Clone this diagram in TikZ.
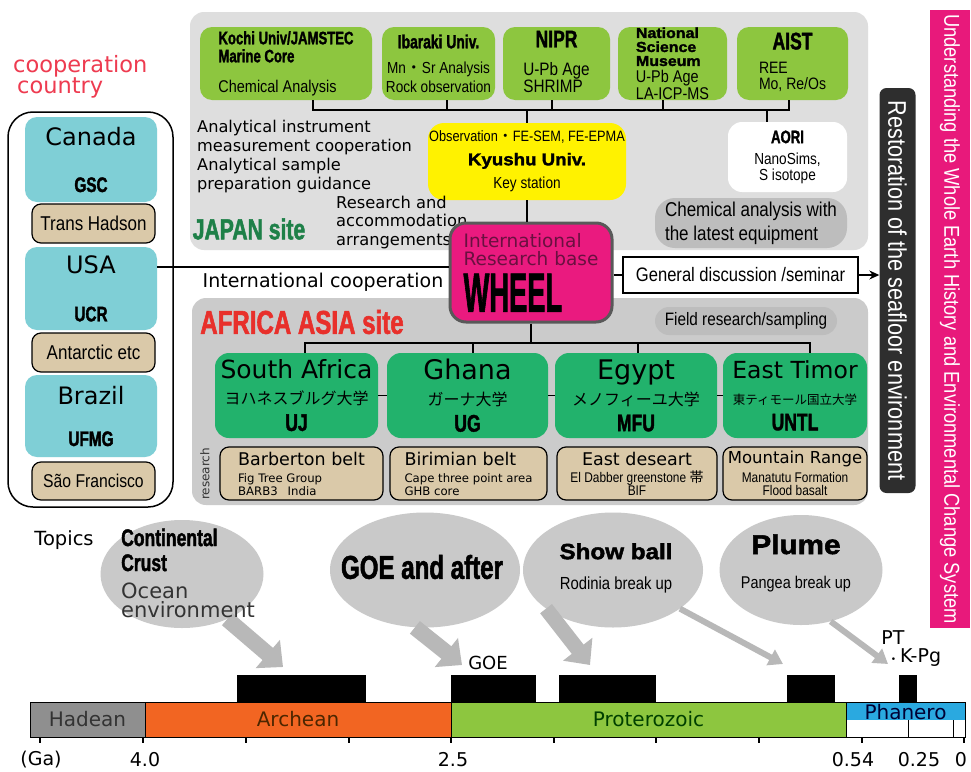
\documentclass[tikz,border=0pt]{standalone}
\usepackage{fontspec}
\usepackage{graphicx}
\usepackage[]{xcolor}
\usetikzlibrary{shapes.geometric,arrows.meta}
\setmainfont{DejaVu Sans}
\newfontfamily\condfont{Liberation Sans}[FakeStretch=0.85]
\newfontfamily\heavyfont{Liberation Sans}[UprightFont=* Bold,FakeStretch=0.73,FakeBold=1.6]
\newfontfamily\blackfont{Liberation Sans}[UprightFont=* Bold,FakeStretch=1.1,FakeBold=2]
\newfontfamily\jpfont{Noto Sans CJK JP}
\newcommand\setfs[2]{\fontsize{#1}{#2}\selectfont}

\definecolor{japanbg}{HTML}{DEDEDE}
\definecolor{africabg}{HTML}{CBCBCB}
\definecolor{limegreen}{HTML}{8DC63F}
\definecolor{kyuyellow}{HTML}{FFF200}
\definecolor{wheelpink}{HTML}{EA1A7F}
\definecolor{wheeltext}{HTML}{6A1040}
\definecolor{sitegreen}{HTML}{22B26C}
\definecolor{beltTan}{HTML}{DAC9A9}
\definecolor{landcyan}{HTML}{7FCFD6}
\definecolor{pillgray}{HTML}{BDBDBD}
\definecolor{restoreblack}{HTML}{2E2E2E}
\definecolor{earthpink}{HTML}{E8197B}
\definecolor{coopred}{HTML}{EE3B50}
\definecolor{japangreen}{HTML}{1E8048}
\definecolor{africared}{HTML}{E8302B}
\definecolor{bubblegray}{HTML}{C9C9C9}
\definecolor{arrowgray}{HTML}{B8B8B8}
\definecolor{hadeangray}{HTML}{8F8F8F}
\definecolor{archeanorange}{HTML}{F26522}
\definecolor{proterogreen}{HTML}{8DC63F}
\definecolor{phaneroblue}{HTML}{2AA9E0}
\definecolor{darktext}{HTML}{333333}

\begin{document}
\begin{tikzpicture}[x=1pt,y=-1pt,
        every node/.style={inner sep=0},
        wire/.style={line width=1.2},
        jpbox/.style={fill=limegreen, rounded corners=12, minimum height=73, align=center},
        land/.style={fill=landcyan, rounded corners=12, minimum width=132, align=center},
        belt/.style={draw, line width=1.2, fill=beltTan, rounded corners=9},
        site/.style={fill=sitegreen, rounded corners=14, minimum height=85, align=center},
        pill/.style={fill=pillgray, rounded corners=14},
        era/.style={draw, line width=1, minimum height=35},
        bubble/.style={ellipse, fill=bubblegray},
        fatarrow/.style={draw=arrowgray, line width=16, -{Triangle[length=20pt,width=36pt]}},
        thinarrow/.style={draw=arrowgray, line width=6, -{Triangle[length=14pt,width=17pt]}}]
        \useasboundingbox (0,0) rectangle (971,771);
        \fill[white] (0,0) rectangle (971,771);

        % sites
        \fill[japanbg, rounded corners=14] (190,12) rectangle (868,250);
        \fill[africabg, rounded corners=14] (192,298) rectangle (868,505);

        \node[jpbox, minimum width=172, align=left, font=\condfont\setfs{17}{18}] (kochi) at (286,63.5)
                {{\heavyfont\setfs{18}{18}Kochi Univ/JAMSTEC}\\{\heavyfont\setfs{18}{18}Marine Core}\\[12pt]Chemical Analysis};
        \node[jpbox, minimum width=113, font=\condfont\setfs{16}{19}] (ibaraki) at (438.5,63.5)
                {{\heavyfont\setfs{19}{19}Ibaraki Univ.}\\[6pt]Mn{\jpfont ・}Sr Analysis\\Rock observation};
        \node[jpbox, minimum width=107, font=\condfont\setfs{18}{14}] (nipr) at (556.5,63.5)
                {{\heavyfont\setfs{24}{14}NIPR}\\[14pt]\begin{tabular}[t]{@{}l@{}}U-Pb Age\\SHRIMP\end{tabular}};
        \node[jpbox, minimum width=109, align=left, font=\condfont\setfs{17}{14}] (nsm) at (672.5,63.5)
                {{\blackfont\setfs{14.5}{14}National}\\{\blackfont\setfs{14.5}{14}Science}\\{\blackfont\setfs{14.5}{14}Museum}\\[3pt]U-Pb Age\\LA-ICP-MS};
        \node[jpbox, minimum width=111, font=\condfont\setfs{16.5}{15}] (aist) at (792.5,63.5)
                {{\heavyfont\setfs{24}{15}AIST}\\[9pt]\begin{tabular}[t]{@{}l@{}}REE\\Mo, Re/Os\end{tabular}};

        \node[fill=kyuyellow, rounded corners=16, minimum width=198, minimum height=77, align=center, font=\condfont\setfs{15}{23.5}] (kyushu) at (527,161.5)
                {Observation{\jpfont ・}FE-SEM, FE-EPMA\\{\blackfont\setfs{17}{23.5}Kyushu Univ.}\\{\setfs{16}{23.5}Key station}};
        \node[fill=white, rounded corners=14, minimum width=119, minimum height=70, align=center, font=\condfont\setfs{16}{16}] (aori) at (787.5,157)
                {{\heavyfont\setfs{18}{16}AORI}\\[5pt]NanoSims,\\S isotope};
        \node[pill, rounded corners=20, minimum width=192, minimum height=50, align=left, font=\condfont\setfs{20}{24}] (chem) at (751,223)
                {Chemical analysis with\\the latest equipment};

        \node[anchor=west, align=left, font=\setfs{16.2}{19}] (instr) at (197,157)
                {Analytical instrument\\measurement cooperation\\Analytical sample\\preparation guidance};
        \node[anchor=west, align=left, font=\setfs{16.3}{18.5}] (accom) at (336,222)
                {Research and\\accommodation\\arrangements};
        \node[text=japangreen, font=\heavyfont\setfs{29}{30}] (japansite) at (249,229) {JAPAN site};

        \node[fill=wheelpink, draw=gray!70!black, line width=3, rounded corners=16, minimum width=162, minimum height=99, align=left, font=\setfs{18.5}{18}] (wheel) at (531,272.5)
                {{\color{wheeltext}International}\\{\color{wheeltext}Research base}\\[7pt]{\heavyfont\setfs{55}{18}\scalebox{0.68}[1]{WHEEL}}};
        \node[draw, line width=1.2, fill=white, minimum width=235, minimum height=36, font=\condfont\setfs{19.5}{20}] (discuss) at (740.5,275) {General discussion /seminar};
        \node[font=\setfs{19}{20}] (intlcoop) at (323,282) {International cooperation};

        \node[text=africared, font=\heavyfont\setfs{33}{34}] (africasite) at (302,322) {AFRICA ASIA site};
        \node[pill, minimum width=182, minimum height=28, font=\condfont\setfs{18}{20}] (field) at (746,321) {Field research/sampling};

        \node[site, minimum width=163, font=\setfs{25}{26}] (sa) at (296.5,395.5)
                {South Africa\\{\jpfont\setfs{16}{26}ヨハネスブルグ大学}\\{\heavyfont\setfs{24}{26}UJ}};
        \node[site, minimum width=161, font=\setfs{27}{26}] (ghana) at (467.5,395.5)
                {Ghana\\{\jpfont\setfs{16}{26}ガーナ大学}\\{\heavyfont\setfs{24}{26}UG}};
        \node[site, minimum width=162, font=\setfs{27}{26}] (egypt) at (636,395.5)
                {Egypt\\{\jpfont\setfs{16}{26}メノフィーユ大学}\\{\heavyfont\setfs{24}{26}MFU}};
        \node[site, minimum width=144, font=\setfs{23.5}{26}] (timor) at (795,395.5)
                {East Timor\\{\jpfont\setfs{12.5}{26}東ティモール国立大学}\\{\heavyfont\setfs{24}{26}UNTL}};

        \node[belt, minimum width=163, minimum height=53, align=left, font=\setfs{11.7}{13}] (barberton) at (301.5,473.5)
                {{\setfs{17.5}{13}Barberton belt}\\[4pt]Fig Tree Group\\BARB3\hspace{10pt}India};
        \node[belt, minimum width=157, minimum height=53, align=left, font=\setfs{11.7}{13}] (birimian) at (468.5,473.5)
                {{\setfs{17.5}{13}Birimian belt}\\[4pt]Cape three point area\\GHB core};
        \node[belt, minimum width=160, minimum height=53, align=center, font=\condfont\setfs{14}{13}] (eastdesert) at (637,473.5)
                {{\rmfamily\setfs{17.5}{13}East deseart}\\[4pt]El Dabber greenstone {\jpfont 帯}\\BIF};
        \node[belt, minimum width=144, minimum height=53, align=center, font=\condfont\setfs{14}{13}] (mountain) at (795,473.5)
                {{\rmfamily\setfs{16.5}{13}Mountain Range}\\[4pt]Manatutu Formation\\Flood basalt};
        \node[rotate=90, text=darktext, font=\setfs{12}{12}] (researchlbl) at (205,474) {research};

        % outcome bars
        \node[fill=restoreblack, rounded corners=7, minimum width=405, minimum height=36, rotate=-90, text=white, font=\condfont\setfs{25.5}{24}] (restore) at (897.5,290.5)
                {Restoration of the seafloor environment};
        \node[fill=earthpink, minimum width=618, minimum height=40, rotate=-90, text=white, font=\condfont\setfs{21.5}{22}] (earth) at (950,319)
                {Understanding the Whole Earth History and Environmental Change System};

        % cooperation countries
        \node[anchor=west, align=left, text=coopred, font=\setfs{22.5}{19}] (coopcountry) at (13,77) {cooperation\\\hspace*{4pt}country};
        \node[draw, line width=1.5, rounded corners=25, minimum width=165, minimum height=395] (countries) at (90.5,309.5) {};
        \node[land, minimum height=85, font=\setfs{24}{47}] (canada) at (91,159.5) {Canada\\{\heavyfont\setfs{21}{47}GSC}};
        \node[belt, minimum width=123, minimum height=39, font=\condfont\setfs{20}{20}] (transhudson) at (93.5,223.5) {Trans Hadson};
        \node[land, minimum height=83, font=\setfs{24}{48}] (usa) at (91,288.5) {USA\\{\heavyfont\setfs{21}{48}UCR}};
        \node[belt, minimum width=123, minimum height=39, font=\condfont\setfs{20}{20}] (antarctic) at (93.5,352.5) {Antarctic etc};
        \node[land, minimum height=82, font=\setfs{24}{42}] (brazil) at (91,416) {Brazil\\{\heavyfont\setfs{21}{42}UFMG}};
        \node[belt, minimum width=123, minimum height=38, font=\condfont\setfs{18.5}{20}] (saofrancisco) at (93.5,481) {São Francisco};

        % connectors
        \coordinate (jpbus) at (527,110);
        \draw[wire] ([xshift=27]kochi.south) |- (jpbus) -| ([xshift=-3.5]aist.south);
        \draw[wire] ([xshift=8.5]ibaraki.south) -- ++(0,10);
        \draw[wire] ([xshift=-4.5]nipr.south) -- ++(0,10);
        \draw[wire] ([xshift=-9.5]nsm.south) -- ++(0,10);
        \draw[wire] (jpbus) -- (kyushu.north);
        \draw[wire] ([xshift=-20.5]aori.north) -- ++(0,-12);
        \draw[wire] (kyushu.south) -- (kyushu.south |- wheel.north);
        \draw[wire] (usa.18) -- (usa.18 -| wheel.west);
        \draw[wire] (wheel.east |- discuss.west) -- (discuss.west);
        \draw[wire, -{Stealth[length=10pt,width=9pt]}] (discuss.east) -- (discuss.east -| restore.south);
        \coordinate (afbus) at (531,343);
        \draw[wire] (wheel.south) -- (afbus);
        \draw[wire] ([xshift=8.5]sa.north) |- (afbus) -| ([xshift=15]timor.north);
        \draw[wire] ([xshift=5.5]ghana.north) -- ++(0,-10);
        \draw[wire] ([xshift=2]egypt.north) -- ++(0,-10);
        \draw[wire] (sa.east) -- (ghana.west);
        \draw[wire] (ghana.east) -- (egypt.west);
        \draw[wire] (egypt.east) -- (timor.west);

        % topics
        \node[font=\setfs{19.5}{20}] (topics) at (64,540) {Topics};
        \node[bubble, minimum width=163, minimum height=108] (crust) at (182,574) {};
        \node[bubble, minimum width=190, minimum height=115] (goe) at (425,570) {};
        \node[bubble, minimum width=180, minimum height=115] (show) at (613,570) {};
        \node[bubble, minimum width=163, minimum height=110] (plume) at (801,570) {};
        \coordinate (crusttip) at (283,667);
        \coordinate (goetip) at (462,665);
        \coordinate (showtip) at (590,665);
        \coordinate (rodiniatip) at (783,664);
        \coordinate (plumetip) at (888,664);
        \draw[fatarrow] (crust.-45) -- (crusttip);
        \draw[fatarrow] (goe.-100) -- (goetip);
        \draw[fatarrow, line width=15] (show.-150) -- (showtip);
        \draw[thinarrow] (show.-30) -- (rodiniatip);
        \draw[thinarrow] (plume.-60) -- (plumetip);
        \node[anchor=west, align=left, font=\setfs{21}{19}] (crusttxt) at (121,573)
                {{\heavyfont\setfs{24}{19}Continental}\\[6pt]{\heavyfont\setfs{24}{19}Crust}\\[8pt]{\color{darktext}Ocean}\\{\color{darktext}environment}};
        \node[font=\heavyfont\setfs{33}{34}] (goetxt) at (422,567) {GOE and after};
        \node[align=center, font=\condfont\setfs{17.5}{30}] (showtxt) at (616,568) {{\blackfont\setfs{22}{30}Show ball}\\Rodinia break up};
        \node[align=center, font=\condfont\setfs{17}{34}] (plumetxt) at (796,563) {{\blackfont\setfs{27}{34}Plume}\\Pangea break up};

        % time line
        \foreach \a/\b in {237/366,451/536,559/656,787/835,899/917}
                \fill (\a,675) rectangle (\b,702);
        \node[era, fill=hadeangray, minimum width=115, text=darktext, font=\setfs{20}{20}] (hadean) at (87.5,719.5) {Hadean};
        \node[era, fill=archeanorange, minimum width=306, text=black!70!orange, font=\setfs{20}{20}] (archean) at (298,719.5) {Archean};
        \node[era, fill=proterogreen, minimum width=395, text=black!75!green, font=\setfs{20}{20}] (proterozoic) at (648.5,719.5) {Proterozoic};
        \fill[phaneroblue] (846,702) rectangle (965,720);
        \draw[line width=1] (846,702) rectangle (965,737);
        \draw[line width=0.5] (908,720) -- (908,737);
        \draw[line width=0.5] (953,720) -- (953,737);
        \node[text=black!80!blue, font=\setfs{20}{20}] (phanero) at (905.5,712) {Phanero};
        \foreach \t in {40,143,246,349,451,554,656,759,862,964}
                \draw[line width=1.2] (\t,737) -- (\t,743);
        \node[font=\setfs{19}{20}] (galabel) at (41,760) {(Ga)};
        \node[font=\setfs{19}{20}] (ga40) at (145,760) {4.0};
        \node[font=\setfs{19}{20}] (ga25) at (453,760) {2.5};
        \node[font=\setfs{19}{20}] (ga054) at (853,760) {0.54};
        \node[font=\setfs{19}{20}] (ga025) at (919,760) {0.25};
        \node[font=\setfs{19}{20}] (ga0) at (961,760) {0};
        \node[font=\setfs{18}{20}] (goelabel) at (488,663) {GOE};
        \node[font=\setfs{19}{20}] (ptlabel) at (893,638) {PT};
        \node[font=\setfs{19}{20}] (kpglabel) at (916,658) {{\setfs{9}{9}•}\hspace{4pt}K-Pg};
\end{tikzpicture}
\end{document}
